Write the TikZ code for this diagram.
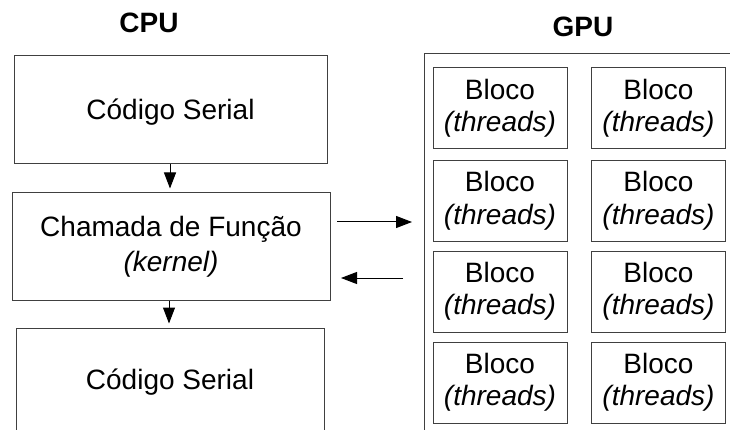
\documentclass[tikz,border=0pt]{standalone}
\usepackage{fontspec}
\setmainfont{Liberation Sans}
\usetikzlibrary{arrows.meta}
\begin{document}
\begin{tikzpicture}[x=1pt,y=-1pt,
  box/.style={draw=black!75, line width=1pt, inner sep=0pt, align=center,
    font=\fontsize{28}{32.5}\selectfont},
  blk/.style={box, minimum width=134pt, minimum height=81pt},
  title/.style={font=\fontsize{28}{31}\selectfont\bfseries, inner sep=0pt},
  arr/.style={-{Triangle[length=16pt,width=12pt]}, line width=1pt, black}]
\useasboundingbox (0,0) rectangle (730,430);
\fill[white] (0,0) rectangle (730,430);
\begin{scope}
\clip (0,0) rectangle (730,430);
\node[title] (cpu) at (149,23) {CPU};
\node[title] (gpu) at (583,27) {GPU};
\node[box, minimum width=313pt, minimum height=108pt] (s1) at (170.5,110) {};
\node[font=\fontsize{28}{32.5}\selectfont, inner sep=0pt] (s1t) at (170.5,112.5) {Código Serial};
\node[box, minimum width=318pt, minimum height=107pt, font=\fontsize{28}{35}\selectfont] (fn) at (171,246.5) {Chamada de Função\\\textit{(kernel)}};
\node[box, minimum width=308pt, minimum height=108pt] (s2) at (170,382) {Código Serial};
\node[draw=black!75, line width=1pt, minimum width=330pt, minimum height=420pt, inner sep=0pt] (gpubox) at (589,264) {};
\node[blk] (b11) at (500,108.5) {Bloco\\\textit{(threads)}};
\node[blk] (b12) at (658.5,108.5) {Bloco\\\textit{(threads)}};
\node[blk] (b21) at (500,201) {Bloco\\\textit{(threads)}};
\node[blk] (b22) at (658.5,201) {Bloco\\\textit{(threads)}};
\node[blk] (b31) at (500,291.5) {Bloco\\\textit{(threads)}};
\node[blk] (b32) at (658.5,291.5) {Bloco\\\textit{(threads)}};
\node[blk] (b41) at (500,382.5) {Bloco\\\textit{(threads)}};
\node[blk] (b42) at (658.5,382.5) {Bloco\\\textit{(threads)}};
\coordinate (g1s) at (337,222);
\coordinate (g1e) at (412,222);
\coordinate (g2s) at (403,278);
\coordinate (g2e) at (341,278);
\draw[arr] (g1s) -- (g1e);
\draw[arr] (g2s) -- (g2e);
\draw[arr, shorten >=4pt] (s1.south -| 170,0) -- (fn.north -| 170,0);
\draw[arr, shorten >=4pt] (fn.south -| 169,0) -- (s2.north -| 169,0);
\end{scope}
\end{tikzpicture}
\end{document}
